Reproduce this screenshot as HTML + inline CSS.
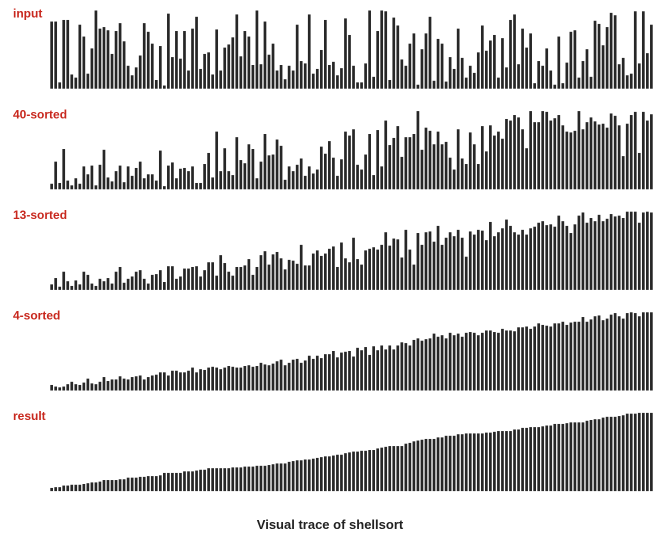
<!DOCTYPE html>
<html><head><meta charset="utf-8"><style>
html,body{margin:0;padding:0;background:#fff;}
body{width:669px;height:536px;overflow:hidden;}
svg text{font-family:"Liberation Sans",sans-serif;font-weight:bold;}
</style></head><body>
<svg id="chart" width="669" height="536" viewBox="0 0 669 536" xmlns="http://www.w3.org/2000/svg">
<text x="330" y="529" font-size="13" text-anchor="middle" fill="#222">Visual trace of shellsort</text>
</svg>
<script>
const inputValues = [85,85,8,87,87,18,14,81,66,19,51,99,76,78,74,44,73,83,60,29,17,27,42,83,72,57,11,54,4,95,40,73,38,73,23,76,91,25,44,46,18,75,23,52,56,65,94,41,73,66,30,
99,31,85,43,57,23,30,12,29,23,81,35,32,94,19,25,49,87,30,34,17,26,89,68,29,8,8,32,99,15,73,99,98,11,90,80,37,29,57,70,5,50,70,91,10,63,57,9,40,25,76,
39,14,29,20,46,80,48,61,68,14,64,27,87,94,31,76,52,70,7,35,29,51,23,5,66,7,33,72,74,14,35,50,15,86,82,55,78,96,93,31,39,17,19,98,32,98,45,81];
const rowLabels = ["input","40-sorted","13-sorted","4-sorted","result"];
const passIncrements = [40,13,4,1];

function hSort(arr,h){const a=arr.slice();for(let i=h;i<a.length;i++){for(let j=i;j>=h&&a[j]<a[j-h];j-=h){const t=a[j];a[j]=a[j-h];a[j-h]=t;}}return a;}
const rows=[inputValues];
for(const h of passIncrements){rows.push(hSort(rows[rows.length-1],h));}

const svg=document.getElementById('chart');
const NS='http://www.w3.org/2000/svg';
const x0=50.3, pitch=4.025, barW=2.7, rowGap=100.6, base0=88.7, scaleY=0.79;
function xPos(i){return x0+i*pitch;}
function yLen(v){return v*scaleY;}
rows.forEach((vals,r)=>{
  const base=base0+r*rowGap;
  const g=document.createElementNS(NS,'g');
  
  
  const lab=document.createElementNS(NS,'text');
  
  
  lab.setAttribute('x',13);lab.setAttribute('y',base-71);
  lab.setAttribute('font-size','12');lab.setAttribute('fill','#c8281e');
  lab.textContent=rowLabels[r];
  g.appendChild(lab);
  vals.forEach((v,i)=>{
    const rc=document.createElementNS(NS,'rect');
    
    
    const hgt=yLen(v);
    rc.setAttribute('x',xPos(i));rc.setAttribute('y',base-hgt);
    rc.setAttribute('width',barW);rc.setAttribute('height',hgt);
    rc.setAttribute('fill','#262626');
    g.appendChild(rc);
  });
  svg.appendChild(g);
});
</script>
</body></html>
